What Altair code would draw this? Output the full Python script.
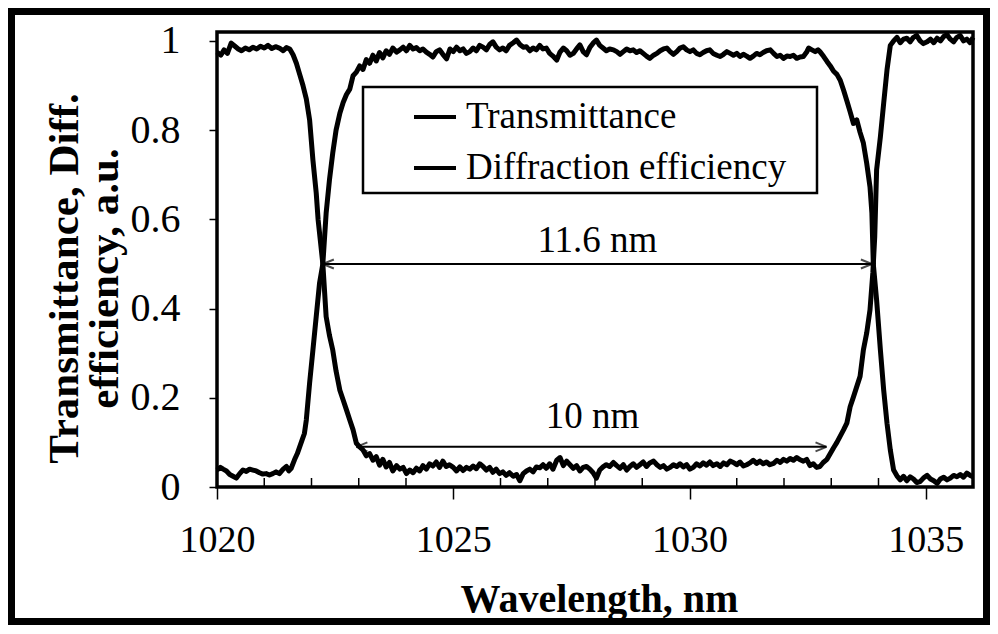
import altair as alt
import pandas as pd

# ---------------- data ----------------
wl_T = [1020.00, 1020.08, 1020.15, 1020.22, 1020.30, 1020.38, 1020.45, 1020.52, 1020.60, 1020.68,
        1020.76, 1020.84, 1020.92, 1021.00, 1021.08, 1021.16, 1021.24, 1021.32, 1021.40, 1021.47,
        1021.54, 1021.61, 1021.68, 1021.75, 1021.82, 1021.89, 1021.96, 1022.03, 1022.10, 1022.14,
        1022.19, 1022.24, 1022.31, 1022.38, 1022.45, 1022.52, 1022.60, 1022.67, 1022.74, 1022.81,
        1022.88, 1022.95, 1023.02, 1023.09, 1023.16, 1023.23, 1023.30, 1023.37, 1023.44, 1023.51,
        1023.58, 1023.65, 1023.72, 1023.80, 1023.87, 1023.94, 1024.01, 1024.08, 1024.15, 1024.22,
        1024.29, 1024.36, 1024.43, 1024.50, 1024.57, 1024.64, 1024.71, 1024.78, 1024.85, 1024.92,
        1025.00, 1025.07, 1025.14, 1025.21, 1025.28, 1025.35, 1025.42, 1025.49, 1025.56, 1025.63,
        1025.70, 1025.77, 1025.84, 1025.91, 1025.98, 1026.05, 1026.12, 1026.19, 1026.27, 1026.34,
        1026.41, 1026.48, 1026.55, 1026.62, 1026.69, 1026.76, 1026.83, 1026.90, 1026.97, 1027.04,
        1027.11, 1027.19, 1027.26, 1027.33, 1027.40, 1027.47, 1027.54, 1027.61, 1027.68, 1027.75,
        1027.82, 1027.89, 1027.96, 1028.03, 1028.10, 1028.17, 1028.24, 1028.31, 1028.39, 1028.46,
        1028.53, 1028.60, 1028.67, 1028.74, 1028.81, 1028.88, 1028.95, 1029.02, 1029.09, 1029.16,
        1029.24, 1029.31, 1029.38, 1029.45, 1029.52, 1029.59, 1029.66, 1029.73, 1029.80, 1029.87,
        1029.94, 1030.01, 1030.08, 1030.15, 1030.22, 1030.29, 1030.36, 1030.43, 1030.50, 1030.58,
        1030.65, 1030.72, 1030.79, 1030.86, 1030.93, 1031.00, 1031.07, 1031.14, 1031.21, 1031.28,
        1031.35, 1031.42, 1031.49, 1031.56, 1031.63, 1031.70, 1031.78, 1031.85, 1031.92, 1031.99,
        1032.06, 1032.13, 1032.20, 1032.27, 1032.34, 1032.41, 1032.48, 1032.55, 1032.62, 1032.69,
        1032.76, 1032.83, 1032.91, 1032.98, 1033.05, 1033.12, 1033.19, 1033.26, 1033.33, 1033.40,
        1033.47, 1033.54, 1033.61, 1033.68, 1033.75, 1033.82, 1033.88, 1033.92, 1033.96, 1034.04,
        1034.11, 1034.18, 1034.25, 1034.32, 1034.39, 1034.46, 1034.53, 1034.60, 1034.67, 1034.74,
        1034.81, 1034.88, 1034.95, 1035.03, 1035.10, 1035.17, 1035.24, 1035.31, 1035.38, 1035.45,
        1035.52, 1035.59, 1035.66, 1035.73, 1035.80, 1035.87, 1035.94, 1036.00]
T = [0.975, 0.968, 0.980, 0.972, 0.995, 0.988, 0.982, 0.978, 0.984, 0.980,
     0.986, 0.982, 0.988, 0.984, 0.990, 0.983, 0.987, 0.984, 0.978, 0.985,
     0.982, 0.969, 0.950, 0.925, 0.900, 0.870, 0.823, 0.733, 0.659, 0.599,
     0.550, 0.500, 0.382, 0.340, 0.307, 0.260, 0.217, 0.195, 0.173, 0.150,
     0.128, 0.098, 0.090, 0.083, 0.070, 0.075, 0.060, 0.068, 0.049, 0.062,
     0.045, 0.055, 0.036, 0.048, 0.040, 0.044, 0.030, 0.038, 0.032, 0.042,
     0.036, 0.048, 0.040, 0.052, 0.047, 0.056, 0.044, 0.058, 0.046, 0.050,
     0.044, 0.036, 0.045, 0.037, 0.044, 0.040, 0.047, 0.041, 0.052, 0.046,
     0.038, 0.044, 0.033, 0.040, 0.030, 0.034, 0.026, 0.032, 0.024, 0.028,
     0.014, 0.030, 0.036, 0.040, 0.034, 0.045, 0.043, 0.050, 0.042, 0.052,
     0.040, 0.060, 0.066, 0.048, 0.058, 0.050, 0.042, 0.048, 0.036, 0.044,
     0.046, 0.040, 0.032, 0.020, 0.038, 0.045, 0.050, 0.046, 0.055, 0.048,
     0.042, 0.050, 0.038, 0.046, 0.052, 0.044, 0.050, 0.056, 0.046, 0.054,
     0.058, 0.050, 0.044, 0.048, 0.040, 0.044, 0.050, 0.046, 0.052, 0.045,
     0.050, 0.040, 0.044, 0.052, 0.047, 0.054, 0.049, 0.056, 0.048, 0.052,
     0.046, 0.054, 0.050, 0.058, 0.055, 0.050, 0.056, 0.047, 0.050, 0.054,
     0.060, 0.053, 0.058, 0.052, 0.056, 0.050, 0.053, 0.060, 0.055, 0.062,
     0.058, 0.064, 0.060, 0.066, 0.061, 0.058, 0.062, 0.048, 0.052, 0.044,
     0.046, 0.055, 0.062, 0.075, 0.088, 0.100, 0.114, 0.128, 0.143, 0.180,
     0.202, 0.225, 0.248, 0.307, 0.345, 0.397, 0.480, 0.560, 0.711, 0.785,
     0.861, 0.935, 0.990, 1.000, 1.008, 0.996, 1.004, 1.006, 0.998, 1.008,
     1.012, 1.000, 0.994, 0.998, 1.004, 0.996, 1.006, 1.000, 1.010, 1.014,
     1.004, 0.998, 1.008, 1.012, 1.000, 1.004, 0.996, 1.008]

wl_D = [1020.00, 1020.07, 1020.13, 1020.20, 1020.27, 1020.34, 1020.41, 1020.48, 1020.55, 1020.62,
        1020.69, 1020.76, 1020.83, 1020.90, 1020.97, 1021.04, 1021.11, 1021.18, 1021.25, 1021.32,
        1021.40, 1021.47, 1021.52, 1021.57, 1021.64, 1021.70, 1021.75, 1021.80, 1021.85, 1021.89,
        1021.96, 1022.03, 1022.10, 1022.17, 1022.24, 1022.31, 1022.38, 1022.45, 1022.52, 1022.60,
        1022.67, 1022.74, 1022.81, 1022.88, 1022.95, 1023.02, 1023.09, 1023.16, 1023.23, 1023.30,
        1023.37, 1023.44, 1023.51, 1023.58, 1023.65, 1023.72, 1023.80, 1023.87, 1023.94, 1024.01,
        1024.08, 1024.15, 1024.22, 1024.29, 1024.36, 1024.43, 1024.50, 1024.57, 1024.64, 1024.71,
        1024.78, 1024.86, 1024.93, 1025.00, 1025.07, 1025.14, 1025.21, 1025.28, 1025.35, 1025.42,
        1025.49, 1025.56, 1025.63, 1025.70, 1025.77, 1025.84, 1025.91, 1025.98, 1026.05, 1026.12,
        1026.19, 1026.27, 1026.34, 1026.41, 1026.48, 1026.55, 1026.62, 1026.69, 1026.76, 1026.83,
        1026.90, 1026.97, 1027.04, 1027.11, 1027.19, 1027.26, 1027.33, 1027.40, 1027.47, 1027.54,
        1027.61, 1027.68, 1027.75, 1027.82, 1027.89, 1027.96, 1028.03, 1028.10, 1028.17, 1028.24,
        1028.31, 1028.39, 1028.46, 1028.53, 1028.60, 1028.67, 1028.74, 1028.81, 1028.88, 1028.95,
        1029.02, 1029.09, 1029.16, 1029.24, 1029.31, 1029.38, 1029.45, 1029.52, 1029.59, 1029.66,
        1029.73, 1029.80, 1029.87, 1029.94, 1030.01, 1030.08, 1030.15, 1030.22, 1030.29, 1030.36,
        1030.43, 1030.50, 1030.58, 1030.65, 1030.72, 1030.79, 1030.86, 1030.93, 1031.00, 1031.07,
        1031.14, 1031.21, 1031.28, 1031.35, 1031.42, 1031.49, 1031.56, 1031.63, 1031.71, 1031.78,
        1031.85, 1031.92, 1031.99, 1032.06, 1032.13, 1032.20, 1032.27, 1032.34, 1032.41, 1032.48,
        1032.52, 1032.59, 1032.66, 1032.72, 1032.76, 1032.84, 1032.91, 1032.98, 1033.05, 1033.12,
        1033.19, 1033.26, 1033.33, 1033.40, 1033.47, 1033.54, 1033.61, 1033.68, 1033.75, 1033.82,
        1033.86, 1033.89, 1033.96, 1034.04, 1034.11, 1034.18, 1034.25, 1034.32, 1034.39, 1034.46,
        1034.53, 1034.60, 1034.67, 1034.74, 1034.81, 1034.88, 1034.95, 1035.03, 1035.10, 1035.17,
        1035.24, 1035.31, 1035.38, 1035.45, 1035.52, 1035.59, 1035.66, 1035.73, 1035.80, 1035.87,
        1035.94, 1036.00]
D = [0.038, 0.044, 0.040, 0.036, 0.028, 0.024, 0.020, 0.030, 0.038, 0.035,
     0.040, 0.038, 0.036, 0.032, 0.029, 0.030, 0.027, 0.030, 0.034, 0.030,
     0.040, 0.046, 0.036, 0.042, 0.061, 0.075, 0.090, 0.105, 0.120, 0.150,
     0.233, 0.307, 0.382, 0.457, 0.500, 0.614, 0.688, 0.749, 0.800, 0.838,
     0.862, 0.880, 0.892, 0.922, 0.930, 0.944, 0.936, 0.958, 0.950, 0.968,
     0.955, 0.974, 0.962, 0.978, 0.970, 0.984, 0.975, 0.980, 0.986, 0.978,
     0.990, 0.982, 0.985, 0.978, 0.982, 0.975, 0.970, 0.964, 0.976, 0.980,
     0.970, 0.960, 0.982, 0.976, 0.986, 0.978, 0.982, 0.972, 0.976, 0.984,
     0.978, 0.990, 0.986, 0.980, 0.992, 0.998, 0.986, 0.980, 0.984, 0.978,
     0.990, 0.996, 1.002, 0.992, 0.986, 0.987, 0.978, 0.984, 0.980, 0.990,
     0.982, 0.984, 0.972, 0.966, 0.957, 0.975, 0.984, 0.978, 0.968, 0.972,
     0.982, 0.991, 0.976, 0.969, 0.985, 0.995, 1.002, 0.990, 0.984, 0.978,
     0.982, 0.980, 0.976, 0.970, 0.976, 0.982, 0.978, 0.980, 0.974, 0.978,
     0.972, 0.966, 0.961, 0.968, 0.972, 0.978, 0.982, 0.984, 0.976, 0.970,
     0.976, 0.984, 0.987, 0.980, 0.976, 0.980, 0.972, 0.969, 0.974, 0.978,
     0.980, 0.972, 0.968, 0.965, 0.970, 0.976, 0.972, 0.968, 0.972, 0.965,
     0.970, 0.966, 0.961, 0.966, 0.972, 0.969, 0.974, 0.978, 0.980, 0.972,
     0.965, 0.968, 0.961, 0.966, 0.965, 0.968, 0.961, 0.964, 0.965, 0.975,
     0.984, 0.980, 0.976, 0.980, 0.976, 0.965, 0.954, 0.944, 0.932, 0.925,
     0.912, 0.890, 0.866, 0.841, 0.815, 0.823, 0.795, 0.771, 0.726, 0.673,
     0.614, 0.500, 0.419, 0.307, 0.217, 0.143, 0.083, 0.038, 0.025, 0.016,
     0.024, 0.014, 0.023, 0.018, 0.010, 0.012, 0.020, 0.026, 0.018, 0.014,
     0.008, 0.018, 0.022, 0.016, 0.020, 0.026, 0.023, 0.028, 0.022, 0.031,
     0.026, 0.023]

series_names = ["Transmittance", "Diffraction efficiency"]

x_ticks = [1020, 1025, 1030, 1035]
x_minor = [1021, 1022, 1023, 1024, 1026, 1027, 1028, 1029, 1031, 1032, 1033, 1034]
y_ticks = [0, 0.2, 0.4, 0.6, 0.8, 1.0]

# annotation arrows (width markers)
arrow_label = ["11.6 nm", "10 nm"]
arrow_start = [1022.24, 1022.95]
arrow_end = [1033.86, 1032.90]
arrow_level = [0.5, 0.09]
label_x = [1028.05, 1027.95]
label_y = [0.552, 0.158]

# ---------------- build tables ----------------
curves = pd.concat([
    pd.DataFrame({"wl": wl_T, "v": T, "series": series_names[0]}),
    pd.DataFrame({"wl": wl_D, "v": D, "series": series_names[1]}),
])
arrows = pd.DataFrame({"x1": arrow_start, "x2": arrow_end, "y": arrow_level,
                       "label": arrow_label, "lx": label_x, "ly": label_y})
minor = pd.DataFrame({"wl": x_minor})
one = pd.DataFrame({"a": [0]})

FONT = "Liberation Serif"
W, H = 756, 455

xscale = alt.Scale(domain=[1020, 1036], nice=False, zero=False)
yscale = alt.Scale(domain=[0, 1.02], nice=False, zero=True)

xaxis = alt.Axis(values=x_ticks, format="d", tickSize=12, tickWidth=1.5, tickColor="black",
                 domain=False, labelFont=FONT, labelFontSize=38,
                 labelColor="black", labelPadding=22, labelFlush=False, labelOverlap=False,
                 grid=False,
                 title="Wavelength, nm", titleFont=FONT, titleFontSize=40,
                 titleFontWeight="bold", titleColor="black", titleX=382, titleY=112,
                 titleAlign="center", titleBaseline="middle")
yaxis = alt.Axis(values=y_ticks, format="~g", tickSize=8, tickWidth=1.5, tickColor="black",
                 domain=False, labelFont=FONT, labelFontSize=40,
                 labelColor="black", labelPadding=29, labelFlush=False, labelOverlap=False,
                 grid=False,
                 title=["Transmittance, Diff.", "efficiency, a.u."], titleFont=FONT,
                 titleFontSize=43, titleFontWeight="bold", titleColor="black",
                 titleAngle=270, titleX=-174, titleY=246, titleAlign="center",
                 titleBaseline="top", titleLineHeight=40)

X = lambda f: alt.X(f, scale=xscale, axis=xaxis)
Y = lambda f: alt.Y(f, scale=yscale, axis=yaxis)

lines = alt.Chart(curves).mark_line(strokeWidth=5, strokeJoin="round").encode(
    x=X("wl:Q"),
    y=Y("v:Q"),
    color=alt.Color("series:N", sort=series_names,
                    scale=alt.Scale(domain=series_names, range=["black", "black"]),
                    legend=alt.Legend(orient="none", legendX=195, legendY=62, title=None,
                                      padding=0, labelFont=FONT, labelFontSize=37,
                                      labelColor="black", labelOffset=8,
                                      symbolType="stroke", symbolSize=1764,
                                      symbolStrokeWidth=4, rowPadding=10,
                                      labelLimit=500)),
    order=alt.Order("wl:Q"),
)

minor_ticks = alt.Chart(minor).mark_rule(color="black", strokeWidth=1.5).encode(
    x=X("wl:Q"),
    y=alt.value(H - 9), y2=alt.value(H),
)

arrow_lines = alt.Chart(arrows).mark_rule(color="black", strokeWidth=2).encode(
    x=X("x1:Q"), x2="x2:Q", y=Y("y:Q"))
head_l = alt.Chart(arrows).mark_point(shape="M0,0L1.1,-0.45M0,0L1.1,0.45", size=400,
                                      filled=False, color="black", strokeWidth=2).encode(
    x=X("x1:Q"), y=Y("y:Q"))
head_r = alt.Chart(arrows).mark_point(shape="M0,0L-1.1,-0.45M0,0L-1.1,0.45", size=400,
                                      filled=False, color="black", strokeWidth=2).encode(
    x=X("x2:Q"), y=Y("y:Q"))
arrow_text = alt.Chart(arrows).mark_text(font=FONT, fontSize=37, color="black",
                                         align="center", baseline="middle").encode(
    x=X("lx:Q"), y=Y("ly:Q"), text="label:N")

plot_box = alt.Chart(one).mark_rect(fillOpacity=0, stroke="black", strokeWidth=3.5).encode(
    x=alt.value(0), x2=alt.value(W), y=alt.value(0), y2=alt.value(H))

legend_box = alt.Chart(one).mark_rect(fillOpacity=0, stroke="black", strokeWidth=2.5).encode(
    x=alt.value(146), x2=alt.value(600), y=alt.value(55), y2=alt.value(161))

frame = alt.Chart(one).mark_rect(fillOpacity=0, stroke="black", strokeWidth=7).encode(
    x=alt.value(-205.5), x2=alt.value(769.5), y=alt.value(-20.5), y2=alt.value(589.5))

chart = alt.layer(lines, minor_ticks, arrow_lines, head_l, head_r, arrow_text,
                  plot_box, legend_box, frame).properties(
    width=W, height=H,
    autosize=alt.AutoSizeParams(type="none"),
    padding={"left": 209, "top": 24, "right": 17, "bottom": 138},
    background="white",
).configure_view(strokeWidth=0, stroke=None)

chart.save("out.html", embed_options={"renderer": "svg", "actions": False})
